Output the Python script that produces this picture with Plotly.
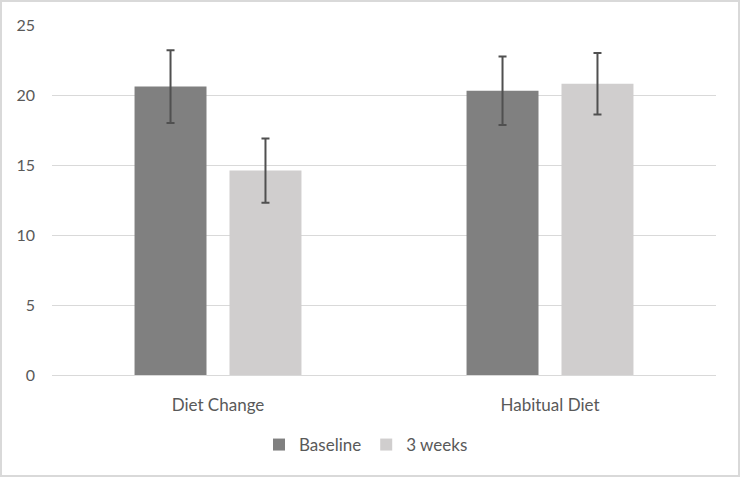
import plotly.graph_objects as go

categories = ["Diet Change", "Habitual Diet"]
baseline = [20.6, 20.3]
baseline_err = [2.6, 2.45]
weeks3 = [14.6, 20.8]
weeks3_err = [2.3, 2.2]
y_ticks = [0, 5, 10, 15, 20, 25]

W, H = 740, 477
ml, mr, mt, mb = 52, 24, 25, 102
pw, ph = W - ml - mr, H - mt - mb

err_style = dict(type="data", color="#505050", thickness=2, width=4, visible=True)
FONT = "Lato, Open Sans, Liberation Sans, sans-serif"

fig = go.Figure()
fig.add_trace(go.Bar(name="Baseline", x=categories, y=baseline,
                     marker=dict(color="#808080", line=dict(width=0)),
                     error_y=dict(array=baseline_err, **err_style)))
fig.add_trace(go.Bar(name="3 weeks", x=categories, y=weeks3,
                     marker=dict(color="#d0cece", line=dict(width=0)),
                     error_y=dict(array=weeks3_err, **err_style)))

fig.update_layout(
    width=W, height=H,
    margin=dict(l=ml, r=mr, t=mt, b=mb),
    paper_bgcolor="white", plot_bgcolor="white",
    barmode="group", bargap=0.428, bargroupgap=0.242,
    font=dict(family=FONT, size=16, color="#595959"),
    yaxis=dict(range=[0, 25], tickvals=y_ticks, showgrid=True, gridcolor="#d9d9d9",
               gridwidth=1, zeroline=True, zerolinecolor="#d9d9d9", zerolinewidth=1,
               showline=False, ticks="", ticklabelstandoff=16,
               tickfont=dict(family=FONT, size=16, color="#595959")),
    xaxis=dict(showline=False, ticks="", showgrid=False, ticklabelstandoff=18,
               tickfont=dict(family=FONT, size=17, color="#595959")),
    legend=dict(orientation="h", x=0.5 - 18 / pw, xanchor="center",
                y=-70 / ph, yanchor="middle",
                font=dict(family=FONT, size=17, color="#595959"), traceorder="normal",
                itemwidth=30),
    showlegend=True,
    shapes=[dict(type="rect", xref="paper", yref="paper",
                 x0=-(ml - 1) / pw, x1=1 + (mr - 1) / pw,
                 y0=-(mb - 1) / ph, y1=1 + (mt - 1) / ph,
                 line=dict(color="#d9d9d9", width=2), fillcolor="rgba(0,0,0,0)",
                 layer="below")],
)

fig.write_html("out.html", config={"displayModeBar": False},
               post_script="document.body.style.margin='0';")
